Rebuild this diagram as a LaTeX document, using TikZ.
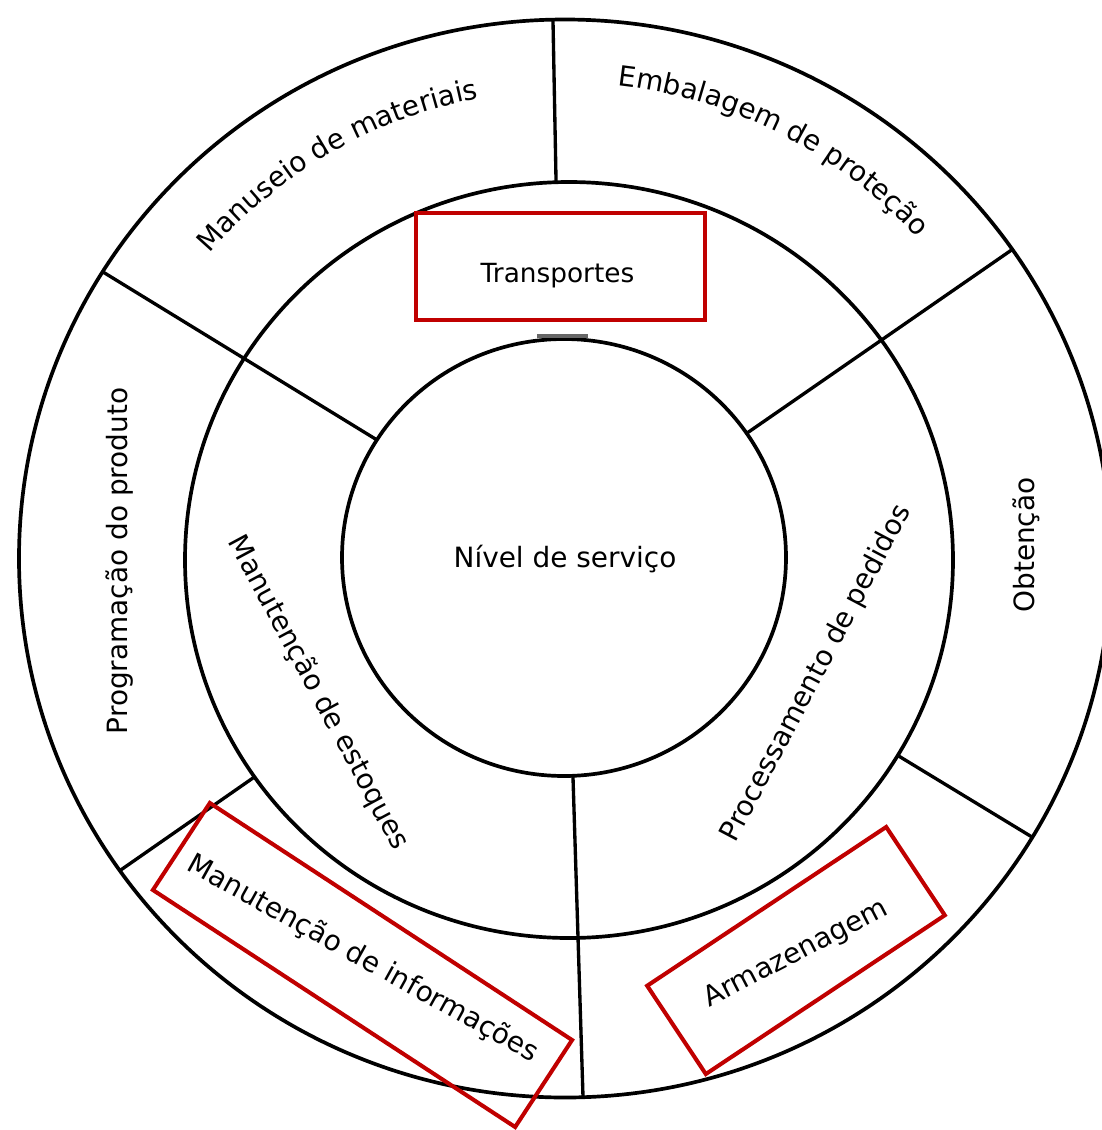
\documentclass[tikz,border=0pt]{standalone}
\usepackage{fontspec}
\setmainfont{DejaVu Sans}
\usetikzlibrary{decorations.text}
\definecolor{boxred}{RGB}{192,0,0}
\newcommand\lbl{\fontsize{15.9pt}{19pt}\selectfont}
\newcommand\lblsmall{\fontsize{15pt}{18pt}\selectfont}
\begin{document}
\begin{tikzpicture}[x=0.02cm, y=0.02cm,
  ring/.style={line width=2.1pt, black},
  divider/.style={line width=1.9pt, black},
  redbox/.style={draw=boxred, line width=2.3pt, inner sep=0pt},
  label/.style={font=\lbl, text=black, inner sep=0pt},
  arclabel/.style={decorate, decoration={text along path, text align=center, text={#1}}}
]
\fill[white] (0,0) rectangle (1102,-1130);
\useasboundingbox (0,0) rectangle (1102,-1130);

% ring centres
\coordinate (co) at (565,-558.5);
\coordinate (cm) at (569,-560);
\coordinate (ci) at (564,-557.5);

% dividers of the outer ring only
\begin{scope}[even odd rule]
  \clip (co) ellipse[x radius=546, y radius=539]
        (cm) ellipse[x radius=384, y radius=378];
  \draw[divider] (552.6,0) -- (556.4,-200);
  \draw[divider] (1053.4,-850) -- (875.6,-742);
  \draw[divider] (104.5,-881.3) -- (273.5,-763.7);
\end{scope}
% dividers crossing both rings
\begin{scope}[even odd rule]
  \clip (co) ellipse[x radius=546, y radius=539]
        (ci) ellipse[x radius=222, y radius=218.5];
  \draw[divider] (1033.5,-234.8) -- (729.5,-445.2);
  \draw[divider] (583.8,-1122) -- (572.2,-752);
  \draw[divider] (86.7,-262) -- (398.3,-453);
\end{scope}

% the three rings
\draw[ring] (co) ellipse[x radius=546, y radius=539];
\draw[ring] (cm) ellipse[x radius=384, y radius=378];
\draw[ring] (ci) ellipse[x radius=222, y radius=218.5];
\draw[line width=2pt, black!60] (537,-336) -- (588,-336);

% centre
\node[label, anchor=base] (nivel) at (565,-567) {Nível de serviço};

% middle ring
\node[font=\lblsmall, inner sep=0pt, anchor=base] (transp) at (557.5,-282) {Transportes};
\node[label, rotate=-61.8] (estoques) at (318,-693) {Manutenção de estoques};
\node[label, rotate=62.2] (pedidos) at (816.5,-673.5) {Processamento de pedidos};

% outer ring
\path[arclabel={|\lbl|Manuseio de materiais}]
  (co) ++(160:468) arc[start angle=160, end angle=80, radius=468];
\path[arclabel={|\lbl|Embalagem de proteção}]
  (co) ++(103:476) arc[start angle=103, end angle=23, radius=476];
\node[label, rotate=90, anchor=base] (obtencao) at (1034,-545) {Obtenção};
\node[label, rotate=90, anchor=base] (programacao) at (127,-561) {Programação do produto};
\node[label, rotate=-29] (informacoes) at (363,-959) {Manutenção de informações};
\node[label, rotate=27.5] (armazenagem) at (796,-954) {Armazenagem};

% highlight frames
\node[redbox, minimum width=5.78cm, minimum height=2.14cm] (boxT) at (560.5,-266.5) {};
\node[redbox, minimum width=8.66cm, minimum height=2.08cm, rotate=-33.2] (boxI) at (362.5,-965) {};
\node[redbox, minimum width=5.74cm, minimum height=2.12cm, rotate=33.6] (boxA) at (796,-950.5) {};
\end{tikzpicture}
\end{document}
